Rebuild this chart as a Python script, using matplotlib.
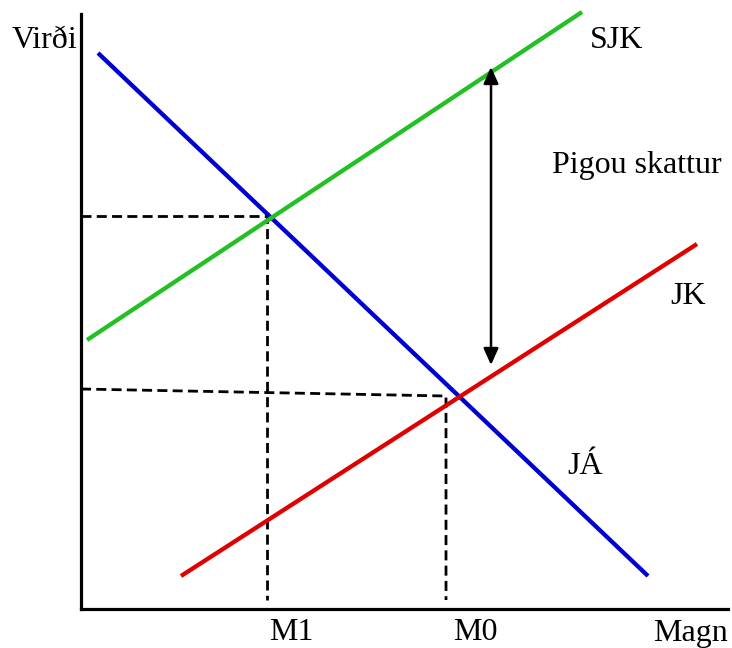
import matplotlib.pyplot as plt

# =========================
# DATA (end points of each curve, in the diagram's own units)
# =========================
demand_x = [17, 567]      # JÁ
demand_y = [556, 33]
social_x = [6, 501]       # SJK
social_y = [269, 597]
private_x = [100, 616]    # JK
private_y = [33, 365]

# equilibrium guide lines
m1_x = [0, 186, 186]
m1_y = [393, 393, 9]
m0_x = [0, 365, 365]
m0_y = [220, 213, 9]

# tax arrow
tax_x = 410
tax_top = 542
tax_bottom = 244

# =========================
# FIGURE
# =========================
plt.rcParams['font.family'] = ['Liberation Serif', 'DejaVu Serif']
fig = plt.figure(figsize=(7.32, 6.48), dpi=100)
ax = fig.add_axes([81 / 732, 39 / 648, 647 / 732, 595 / 648])
ax.set_xlim(0, 647)
ax.set_ylim(0, 595)

for s in ['top', 'right']:
    ax.spines[s].set_visible(False)
for s in ['left', 'bottom']:
    ax.spines[s].set_linewidth(2.3)
ax.set_xticks([])
ax.set_yticks([])

dash = dict(color='black', lw=2, ls=(0, (3.6, 1.9)), clip_on=False)
ax.plot(m1_x, m1_y, **dash)
ax.plot(m0_x, m0_y, **dash)

ax.plot(demand_x, demand_y, color='#0000d0', lw=3.1, solid_capstyle='butt', clip_on=False)
ax.plot(private_x, private_y, color='#e00000', lw=3.1, solid_capstyle='butt', clip_on=False)
ax.plot(social_x, social_y, color='#22c022', lw=3.1, solid_capstyle='butt', clip_on=False)

ax.annotate('', xy=(tax_x, tax_top), xytext=(tax_x, tax_bottom),
            arrowprops=dict(arrowstyle='<|-|>,head_length=1.0,head_width=0.45',
                            color='black', lw=1.8, shrinkA=0, shrinkB=0))

fs = 23
ax.text(-36, 569, 'Virði', fontsize=fs, ha='center', va='center', clip_on=False)
ax.text(536, 569, 'SJK', fontsize=fs, ha='center', va='center', clip_on=False)
ax.text(556, 444, 'Pigou skattur', fontsize=fs, ha='center', va='center')
ax.text(607, 312, 'JK', fontsize=fs, ha='center', va='center')
ax.text(504, 143, 'JÁ', fontsize=fs, ha='center', va='center')
ax.text(210, -24, 'M1', fontsize=fs, ha='center', va='center', clip_on=False)
ax.text(394, -24, 'M0', fontsize=fs, ha='center', va='center', clip_on=False)
ax.text(610, -24, 'Magn', fontsize=fs, ha='center', va='center', clip_on=False)

fig.savefig('out.png', dpi=100)
